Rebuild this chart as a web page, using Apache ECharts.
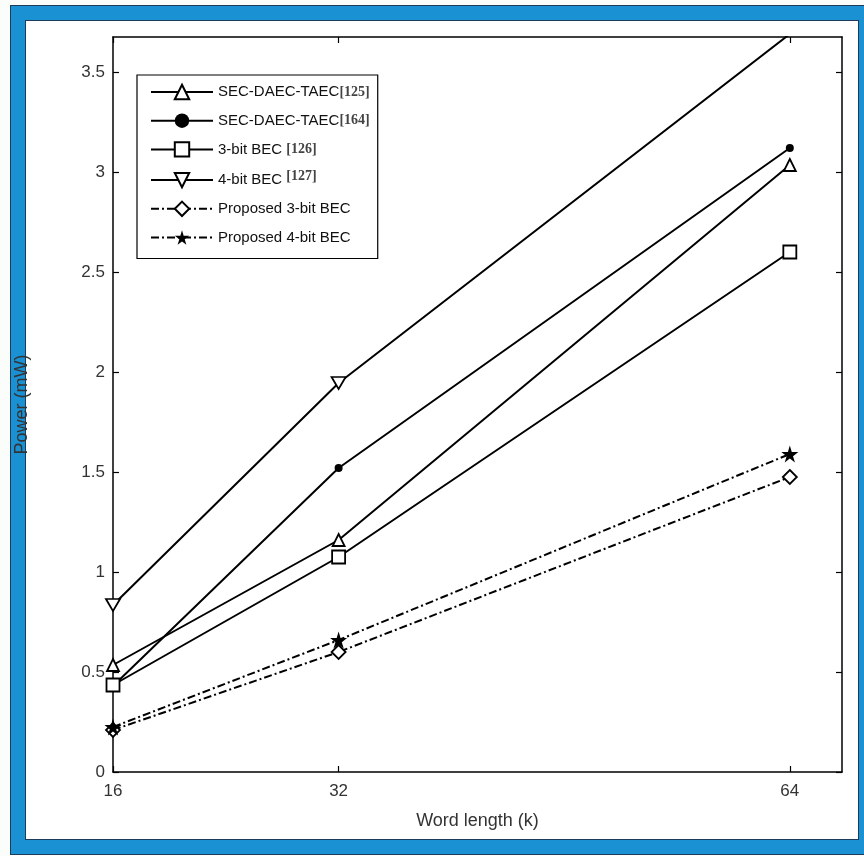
<!DOCTYPE html>
<html>
<head>
<meta charset="utf-8">
<script src="https://cdn.jsdelivr.net/npm/echarts@6/dist/echarts.min.js"></script>
<style>
  html, body { margin: 0; padding: 0; width: 864px; height: 856px; overflow: hidden; background: #fbfdfb; }
  #frame { position: absolute; left: 10px; top: 5px; width: 880px; height: 848px; background: #1a91d3; border: 1px solid #1d3c5c; }
  #inner { position: absolute; left: 25px; top: 20px; width: 832px; height: 818px; background: #ffffff; border: 1px solid #1d3c5c; }
  #chart { position: absolute; left: 0; top: 0; width: 864px; height: 856px; }
</style>
</head>
<body>
<div id="frame"></div>
<div id="inner"></div>
<div id="chart"></div>
<script>
// Word lengths (k) and power consumption (mW) of each code
const wordLength = [16, 32, 64];
const secDaecTaec125 = [0.535, 1.16, 3.035];
const secDaecTaec164 = [0.43, 1.52, 3.12];
const bec3bit126 = [0.435, 1.075, 2.6];
const bec4bit127 = [0.835, 1.945, 3.69];
const proposed3bit = [0.21, 0.60, 1.475];
const proposed4bit = [0.225, 0.66, 1.59];

const xTicks = [16, 32, 64];
const yTicks = [0, 0.5, 1, 1.5, 2, 2.5, 3, 3.5];

const legendNames = [
  'SEC-DAEC-TAEC[125]',
  'SEC-DAEC-TAEC[164]',
  '3-bit BEC [126]',
  '4-bit BEC [127]',
  'Proposed 3-bit BEC',
  'Proposed 4-bit BEC'
];

const pairs = (ys) => wordLength.map((x, i) => [x, ys[i]]);

const STAR = 'path://M50,0 L61,35 L98,35 L68,57 L79,91 L50,70 L21,91 L32,57 L2,35 L39,35 Z';
const TRI_DOWN = 'path://M0,0 L20,0 L10,17 Z';
const SANS = 'Liberation Sans, Arial, sans-serif';
const SERIF = 'Liberation Serif, Times New Roman, serif';

function makeSeries(name, ys, symbol, size, filled, dashed) {
  return {
    name: name,
    type: 'line',
    data: pairs(ys),
    symbol: symbol,
    symbolSize: size,
    showAllSymbol: true,
    clip: true,
    lineStyle: { color: '#000', width: 2, type: dashed ? [8, 3, 2, 3] : 'solid' },
    itemStyle: { color: filled ? '#000' : '#fff', borderColor: '#000', borderWidth: filled ? 0 : 1.8 },
    emphasis: { disabled: true },
    animation: false
  };
}

const chart = echarts.init(document.getElementById('chart'), null, { renderer: 'canvas' });

const axisCommon = {
  type: 'value',
  axisLine: { show: true, onZero: false, lineStyle: { color: '#000', width: 1.5 } },
  axisTick: { show: true, inside: true, length: 6, lineStyle: { color: '#000', width: 1.2 } },
  splitLine: { show: false }
};

chart.setOption({
  backgroundColor: 'transparent',
  animation: false,
  grid: { left: 113, top: 37, right: 22, bottom: 84, containLabel: false },
  xAxis: [
    Object.assign({}, axisCommon, {
      min: 16, max: 67.7, position: 'bottom',
      name: 'Word length (k)', nameLocation: 'middle', nameGap: 40,
      nameTextStyle: { fontFamily: SANS, fontSize: 18, color: '#333' },
      axisTick: Object.assign({}, axisCommon.axisTick, { customValues: xTicks }),
      axisLabel: { customValues: xTicks, margin: 11, fontFamily: SANS, fontSize: 17, color: '#333' }
    }),
    Object.assign({}, axisCommon, {
      min: 16, max: 67.7, position: 'top',
      axisTick: Object.assign({}, axisCommon.axisTick, { customValues: xTicks }),
      axisLabel: { show: false }
    })
  ],
  yAxis: [
    Object.assign({}, axisCommon, {
      min: 0, max: 3.675, position: 'left',
      name: 'Power (mW)', nameLocation: 'middle', nameGap: 82,
      nameTextStyle: { fontFamily: SANS, fontSize: 18, color: '#333' },
      axisTick: Object.assign({}, axisCommon.axisTick, { customValues: yTicks }),
      axisLabel: { customValues: yTicks, margin: 8, fontFamily: SANS, fontSize: 17, color: '#333' }
    }),
    Object.assign({}, axisCommon, {
      min: 0, max: 3.675, position: 'right',
      axisTick: Object.assign({}, axisCommon.axisTick, { customValues: yTicks }),
      axisLabel: { show: false }
    })
  ],
  legend: {
    data: legendNames,
    orient: 'vertical',
    left: 137, top: 75,
    itemWidth: 62, itemHeight: 18, itemGap: 10.7,
    padding: [8, 8, 12, 13],
    backgroundColor: '#fff',
    borderColor: '#000', borderWidth: 1.2,
    selectedMode: false,
    textStyle: {
      fontFamily: SANS, fontSize: 15, color: '#111', lineHeight: 18,
      rich: {
        ref: { fontFamily: SERIF, fontWeight: 'bold', fontSize: 14, color: '#444' },
        sup: { fontFamily: SERIF, fontWeight: 'bold', fontSize: 14, color: '#444', padding: [0, 0, 8, 0] }
      }
    },
    formatter: function (name) {
      const m = name.match(/^(.*?)(\s*)(\[\d+\])$/);
      if (!m) return name;
      const style = name.indexOf('4-bit BEC') === 0 ? 'sup' : 'ref';
      return m[1] + m[2] + '{' + style + '|' + m[3] + '}';
    }
  },
  series: [
    makeSeries(legendNames[0], secDaecTaec125, 'triangle', 12, false, false),
    makeSeries(legendNames[1], secDaecTaec164, 'circle', 8, true, false),
    makeSeries(legendNames[2], bec3bit126, 'rect', 13, false, false),
    makeSeries(legendNames[3], bec4bit127, TRI_DOWN, [14, 12], false, false),
    makeSeries(legendNames[4], proposed3bit, 'diamond', 14, false, true),
    makeSeries(legendNames[5], proposed4bit, STAR, 17, true, true)
  ]
});
</script>
</body>
</html>
